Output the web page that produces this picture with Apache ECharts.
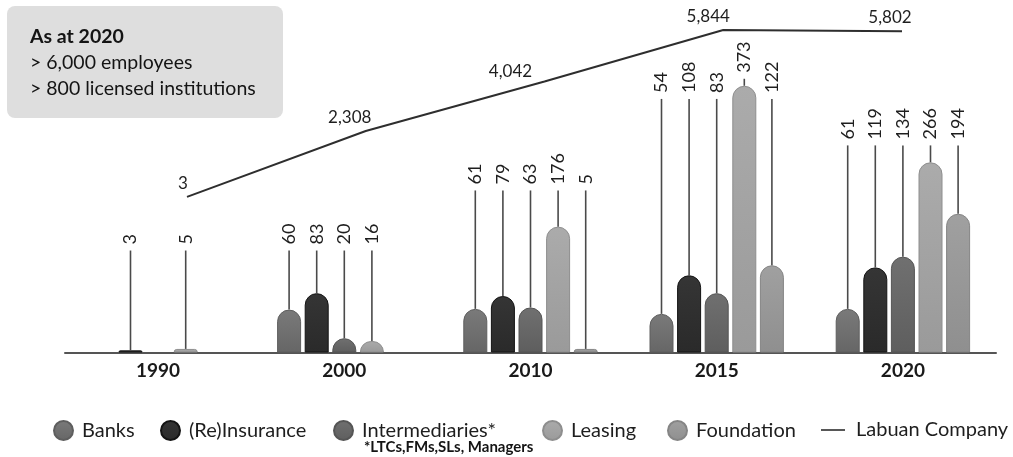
<!DOCTYPE html>
<html>
<head>
<meta charset="utf-8">
<script src="https://cdn.jsdelivr.net/npm/echarts@6/dist/echarts.min.js"></script>
<style>
html,body{margin:0;padding:0;background:#fff;}
#chart{width:1013px;height:457px;}
</style>
</head>
<body>
<div id="chart"></div>
<script>
// ---- data ----
const categories = ['1990', '2000', '2010', '2015', '2020'];
const banks = [null, 60, 61, 54, 61];
const reinsurance = [3, 83, 79, 108, 119];
const intermediaries = [null, 20, 63, 83, 134];
const leasing = [5, 16, 176, 373, 266];
const foundation = [null, null, 5, 122, 194];
const labuanCompany = [3, 2308, 4042, 5844, 5802];
const seriesNames = ['Banks', '(Re)Insurance', 'Intermediaries*', 'Leasing', 'Foundation'];
const lineName = 'Labuan Company';

// ---- layout / style constants ----
const labelLevels = [151, 151, 235, 363, 298];       // per-group label baseline (bar-axis units)
const lineLabelShift = [[-4, 0], [-16, 0], [-34, 4], [-15, 0], [-12, 0]];
const legendLefts = [48, 155, 328, 537, 662];
const FONT = 'Lato, "Open Sans", sans-serif';
const BAR_W = 24, BAR_GAP = 0.15;
const palette = [
  ['#7a7a7a', '#666666', '#5e5e5e'],
  ['#353535', '#2a2a2a', '#141414'],
  ['#707070', '#5e5e5e', '#555555'],
  ['#ababab', '#9a9a9a', '#8e8e8e'],
  ['#a0a0a0', '#8f8f8f', '#858585']
];
const barData = [banks, reinsurance, intermediaries, leasing, foundation];

function grad(c) {
  return {type: 'linear', x: 0, y: 0, x2: 0, y2: 1,
    colorStops: [{offset: 0, color: c[0]}, {offset: 1, color: c[1]}]};
}

const barSeries = barData.map((arr, i) => ({
  name: seriesNames[i],
  type: 'bar',
  xAxisIndex: 0, yAxisIndex: 0,
  barWidth: BAR_W,
  barGap: (BAR_GAP * 100) + '%',
  data: arr,
  itemStyle: {color: grad(palette[i]), borderColor: palette[i][2], borderWidth: 1, borderRadius: [12, 12, 0, 0]},
  emphasis: {disabled: true}
}));

// label + leader line data: [categoryIndex, seriesIndex, value]
const labelData = [];
barData.forEach((arr, s) => arr.forEach((v, c) => { if (v != null) labelData.push([c, s, v]); }));

const labelSeries = {
  type: 'custom',
  xAxisIndex: 0, yAxisIndex: 0,
  encode: {x: 0, y: 2},
  data: labelData,
  silent: true,
  z: 5,
  renderItem: function (params, api) {
    const c = api.value(0), s = api.value(1), v = api.value(2);
    const top = api.coord([c, v]);
    const step = BAR_W * (1 + BAR_GAP);
    const cx = top[0] + (s - 2) * step;
    const levelY = api.coord([c, labelLevels[c]])[1];
    const lb = Math.min(levelY, top[1] - 13);
    return {
      type: 'group',
      children: [
        {type: 'line', shape: {x1: cx, y1: lb + 6, x2: cx, y2: top[1]},
          style: {stroke: '#4a4a4a', lineWidth: 1.6}},
        {type: 'text', x: cx, y: lb, rotation: Math.PI / 2,
          style: {text: String(v), align: 'left', verticalAlign: 'middle',
            font: '18px ' + FONT, fill: '#1e1e1e'}}
      ]
    };
  }
};

const lineSeries = {
  name: lineName,
  type: 'line',
  xAxisIndex: 1, yAxisIndex: 1,
  data: labuanCompany.map((v, i) => ({value: v, label: {offset: lineLabelShift[i]}})),
  symbol: 'circle',
  symbolSize: 0,
  showSymbol: true,
  lineStyle: {color: '#2e2e2e', width: 2},
  itemStyle: {color: '#2e2e2e'},
  label: {show: true, position: 'top', distance: 5,
    formatter: p => Number(p.value).toLocaleString('en-US'),
    fontFamily: FONT, fontSize: 17, color: '#1e1e1e'},
  emphasis: {disabled: true}
};

const legendText = {fontFamily: FONT, fontSize: 20, color: '#1e1e1e', padding: [0, 0, 0, 4]};
const legends = seriesNames.map((n, i) => ({
  data: [n], left: legendLefts[i], top: 415, icon: 'circle', itemWidth: 19, itemHeight: 19,
  textStyle: legendText, selectedMode: false
}));
legends.push({data: [lineName], left: 816, top: 415, icon: 'rect', itemWidth: 24, itemHeight: 1.6,
  textStyle: {fontFamily: FONT, fontSize: 20, color: '#1e1e1e', padding: [0, 0, 0, 6]},
  selectedMode: false});

const chart = echarts.init(document.getElementById('chart'), null, {renderer: 'canvas'});
chart.setOption({
  animation: false,
  backgroundColor: '#ffffff',
  grid: [
    {left: 65, right: 17, top: 30, bottom: 104.5},
    {left: 187, right: 111, top: 30, bottom: 260}
  ],
  xAxis: [
    {type: 'category', gridIndex: 0, data: categories,
      axisLine: {lineStyle: {color: '#555', width: 2}},
      axisTick: {show: false},
      axisLabel: {fontFamily: FONT, fontSize: 19, fontWeight: 'bold', color: '#1a1a1a', margin: 9}},
    {type: 'category', gridIndex: 1, data: categories, boundaryGap: false, show: false}
  ],
  yAxis: [
    {type: 'value', gridIndex: 0, min: 0, max: 451, show: false, splitLine: {show: false}},
    {type: 'value', gridIndex: 1, min: 0, max: 5844, show: false, splitLine: {show: false}}
  ],
  legend: legends,
  graphic: [
    {type: 'rect', left: 7, top: 6, shape: {width: 276, height: 112, r: 8},
      style: {fill: '#dedede'}, z: 0},
    {type: 'text', left: 30, top: 27, style: {text: 'As at 2020', font: 'bold 19.5px ' + FONT, fill: '#141414'}, z: 1},
    {type: 'text', left: 30, top: 53, style: {text: '> 6,000 employees', font: '19.5px ' + FONT, fill: '#141414'}, z: 1},
    {type: 'text', left: 30, top: 79, style: {text: '> 800 licensed institutions', font: '19.5px ' + FONT, fill: '#141414'}, z: 1},
    {type: 'text', left: 364, top: 440, style: {text: '*LTCs,FMs,SLs, Managers', font: 'bold 15px ' + FONT, fill: '#141414'}, z: 1}
  ],
  series: [...barSeries, labelSeries, lineSeries]
});
</script>
</body>
</html>
